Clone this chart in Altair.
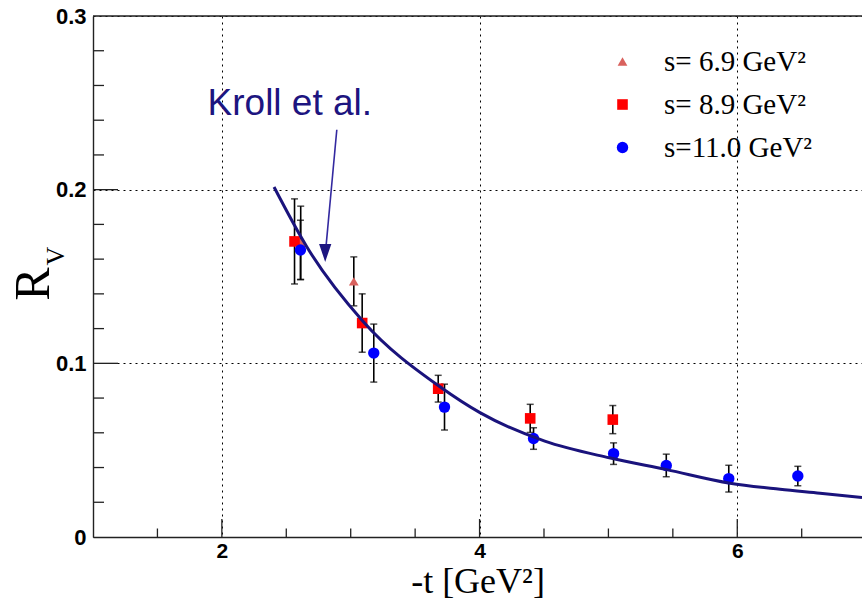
import altair as alt
import pandas as pd

# ---- measured ratio R_V versus -t, one list per beam energy ----
series_labels = ["s= 6.9 GeV²", "s= 8.9 GeV²", "s=11.0 GeV²"]

t_69 = [2.612, 3.024]
r_69 = [0.1694, 0.1472]
e_69 = [0.0211, 0.0141]

t_89 = [2.564, 3.089, 3.679, 4.393, 5.034]
r_89 = [0.1702, 0.1232, 0.0854, 0.0683, 0.0676]
e_89 = [0.0245, 0.0168, 0.0077, 0.0081, 0.0081]

t_110 = [2.610, 3.179, 3.728, 4.419, 5.040, 5.449, 5.934, 6.470]
r_110 = [0.1653, 0.1059, 0.0748, 0.0567, 0.0480, 0.0412, 0.0336, 0.0351]
e_110 = [0.0171, 0.0167, 0.0132, 0.0062, 0.0062, 0.0065, 0.0077, 0.0056]

# ---- model prediction (Kroll et al.) ----
model_t = [2.405, 2.659, 3.098, 3.693, 4.003, 4.506, 5.007, 5.452, 5.944, 6.332, 6.642, 6.968]
model_r = [0.2015, 0.1671, 0.1240, 0.0865, 0.0716, 0.0552, 0.0456, 0.0388, 0.0310, 0.0275,
           0.0252, 0.0227]

# ---- axis ticks ----
x_labels = [2, 4, 6]
x_major = [2, 4, 6]
x_minor = [1.5, 2.5, 3.0, 3.5, 4.5, 5.0, 5.5, 6.5]
y_labels = [0, 0.1, 0.2, 0.3]
y_major = [0.1, 0.2]
y_minor = [0.02, 0.04, 0.06, 0.08, 0.12, 0.14, 0.16, 0.18, 0.22, 0.24, 0.26, 0.28]

# ---- annotation ----
note_text = ["Kroll et al."]
note_pos = [1.889, 0.2428]
arrow_from = [2.892, 0.2345]
arrow_to = [2.810, 0.1685]
arrow_head = [2.802, 0.1636]

W, H = 769, 521
X_DOM = [1, 6.968]
Y_DOM = [0, 0.3]

rows = []
for lab, ts, rs, es in zip(series_labels, [t_69, t_89, t_110], [r_69, r_89, r_110], [e_69, e_89, e_110]):
    for t, r, e in zip(ts, rs, es):
        rows.append({"series": lab, "t": t, "r": r, "lo": r - e, "hi": r + e})
pts = pd.DataFrame(rows)

xs = alt.Scale(domain=X_DOM, nice=False, zero=False)
ys = alt.Scale(domain=Y_DOM, nice=False, zero=False)

x_axis = alt.Axis(
    values=x_labels, format="d", title="-t [GeV²]", grid=True, gridDash=[2, 4],
    gridColor="black", gridWidth=1, gridOpacity=1, ticks=False, labelPadding=3,
    labelFont="Liberation Sans", labelFontWeight="bold", labelFontSize=21, labelColor="black",
    titleFont="Liberation Serif", titleFontWeight="normal", titleFontSize=36, titleColor="black",
    titlePadding=3, domainColor="#222222", domainWidth=1.4,
)
y_axis = alt.Axis(
    values=y_labels, labelExpr="datum.value == 0 ? '0' : format(datum.value, '.1f')",
    title=None, grid=True, gridDash=[2, 4], gridColor="black", gridWidth=1, gridOpacity=1,
    ticks=False, labelPadding=7, labelFont="Liberation Sans", labelFontWeight="bold",
    labelFontSize=22, labelColor="black", domainColor="#222222", domainWidth=1.4,
)


def X(field):
    return alt.X(field, scale=xs, axis=x_axis)


def Y(field):
    return alt.Y(field, scale=ys, axis=y_axis)


base = alt.Chart(pts)

# frame: top border line
top_line = alt.Chart(pd.DataFrame({"r": [Y_DOM[1]]})).mark_rule(color="#222222", strokeWidth=1.4).encode(
    y=Y("r:Q"),
)


def xtick_layer(vals, length):
    return alt.Chart(pd.DataFrame({"t": vals})).mark_rule(color="#222222", strokeWidth=1.3).encode(
        x=X("t:Q"), y=alt.value(H), y2=alt.value(H - length)
    )


def ytick_layer(vals, length):
    return alt.Chart(pd.DataFrame({"r": vals})).mark_rule(color="#222222", strokeWidth=1.3).encode(
        y=Y("r:Q"), x=alt.value(0), x2=alt.value(length)
    )


ticks = [xtick_layer(x_major, 18), xtick_layer(x_minor, 8.5), ytick_layer(y_major, 25), ytick_layer(y_minor, 11)]

err_bar = base.mark_rule(color="black", strokeWidth=1.6).encode(
    x=X("t:Q"), y=Y("lo:Q"), y2="hi:Q",
)
cap_lo = base.mark_tick(color="black", orient="horizontal", size=7, thickness=1.5).encode(
    x=X("t:Q"), y=Y("lo:Q")
)
cap_hi = base.mark_tick(color="black", orient="horizontal", size=7, thickness=1.5).encode(
    x=X("t:Q"), y=Y("hi:Q")
)

legend = alt.Legend(
    title=None, orient="none", legendX=515, legendY=31, padding=0,
    labelFont="Liberation Serif", labelFontSize=29, labelColor="black", labelOffset=27,
    rowPadding=13, symbolStrokeWidth=0,
)
markers = base.mark_point(filled=True, opacity=1).encode(
    x=X("t:Q"),
    y=Y("r:Q"),
    color=alt.Color("series:N", scale=alt.Scale(domain=series_labels, range=["#d9625e", "#ff0000", "#0000ff"]), legend=legend),
    shape=alt.Shape("series:N", scale=alt.Scale(domain=series_labels, range=["triangle-up", "square", "circle"]), legend=legend),
    size=alt.Size("series:N", scale=alt.Scale(domain=series_labels, range=[95, 130, 140]), legend=legend),
)

curve = alt.Chart(pd.DataFrame({"t": model_t, "r": model_r})).mark_line(
    color="#1a137c", strokeWidth=3, interpolate="monotone"
).encode(x=X("t:Q"), y=Y("r:Q"))

note = alt.Chart(pd.DataFrame({"t": [note_pos[0]], "r": [note_pos[1]], "txt": note_text})).mark_text(
    align="left", baseline="alphabetic", font="Liberation Sans", fontSize=37, color="#1d1580"
).encode(x=X("t:Q"), y=Y("r:Q"), text="txt:N")

arrow = alt.Chart(pd.DataFrame({"t": [arrow_from[0]], "r": [arrow_from[1]], "t2": [arrow_to[0]], "r2": [arrow_to[1]]})).mark_rule(
    color="#3329a0", strokeWidth=1.6
).encode(x=X("t:Q"), y=Y("r:Q"), x2="t2:Q", y2="r2:Q")

head = alt.Chart(pd.DataFrame({"t": [arrow_head[0]], "r": [arrow_head[1]]})).mark_point(
    filled=True, opacity=1, color="#1d1580", size=324, shape="M-0.68,-1L0.68,-1L0,1Z"
).encode(x=X("t:Q"), y=Y("r:Q"))

ytitle_main = alt.Chart(pd.DataFrame({"s": ["R"]})).mark_text(
    angle=270, align="center", baseline="alphabetic", font="Liberation Serif", fontSize=50, color="black"
).encode(text="s:N", x=alt.value(-44), y=alt.value(268))
ytitle_sub = alt.Chart(pd.DataFrame({"s": ["V"]})).mark_text(
    angle=270, align="center", baseline="alphabetic", font="Liberation Serif", fontSize=26, color="black"
).encode(text="s:N", x=alt.value(-29), y=alt.value(240))

chart = alt.layer(
    top_line, *ticks, err_bar, cap_lo, cap_hi, markers, curve, note, arrow, head, ytitle_main, ytitle_sub
).properties(
    width=W, height=H,
    padding={"left": 93, "top": 16, "right": 0, "bottom": 63},
    autosize=alt.AutoSizeParams(type="none"),
).configure_view(stroke=None).configure(background="white")

chart.save("out.html", embed_options={"renderer": "svg", "actions": False})
